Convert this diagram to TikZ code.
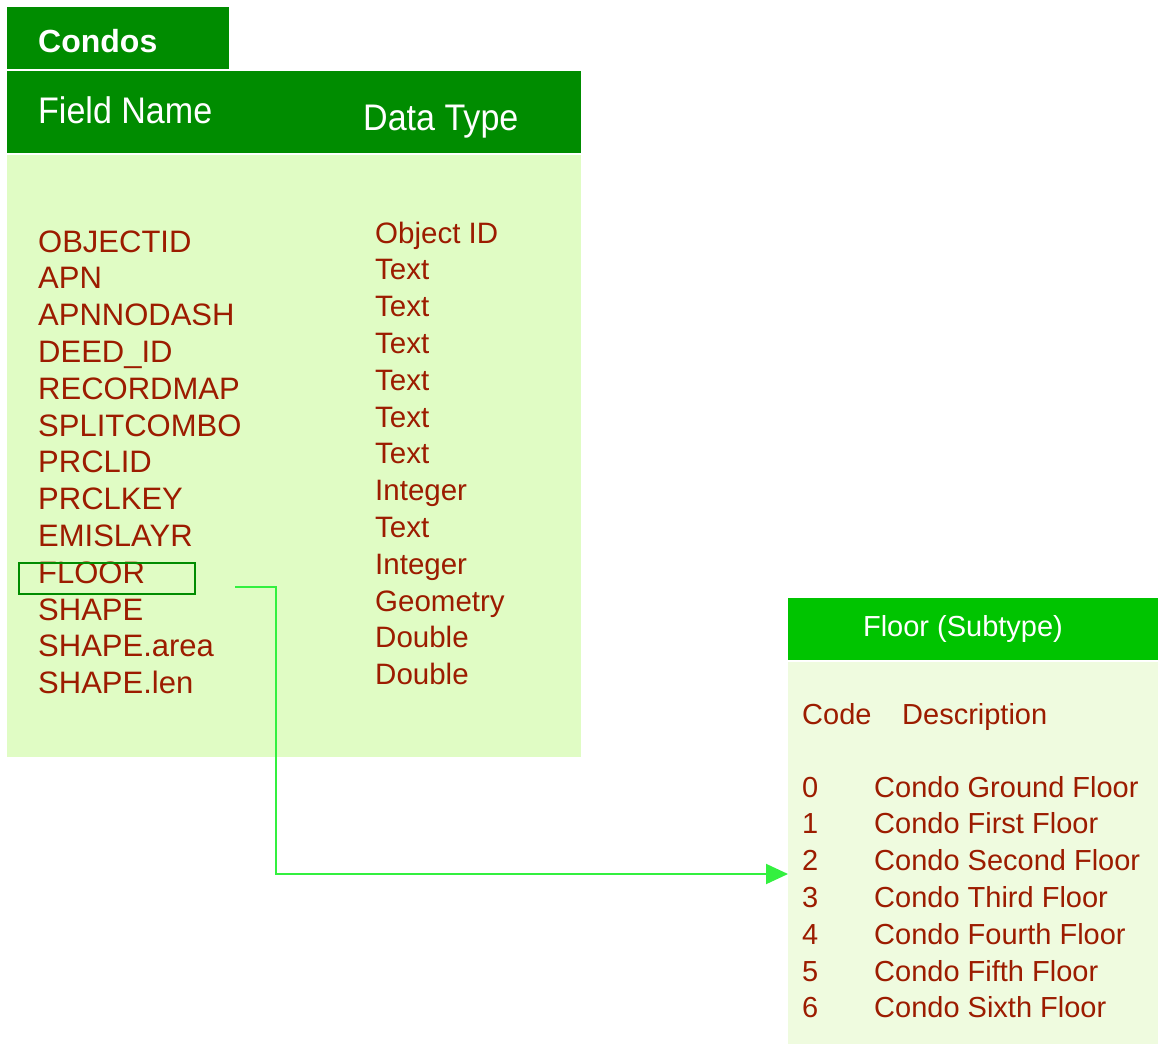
\documentclass[tikz,border=0pt]{standalone}
\usepackage{fontspec}
\setmainfont{Liberation Sans}
\newfontfamily\hdrfont[FakeStretch=0.92]{Liberation Sans}
\usetikzlibrary{arrows.meta}
\definecolor{darkgreen}{HTML}{008C00}
\definecolor{brightgreen}{HTML}{00C400}
\definecolor{paleA}{HTML}{E0FCC4}
\definecolor{paleB}{HTML}{EFFBDF}
\definecolor{fieldred}{HTML}{9C1C00}
\definecolor{linkgreen}{HTML}{33F03F}
\tikzset{
  panel/.style={anchor=north west, inner sep=0pt, outer sep=0pt, draw=none},
  field/.style={anchor=base west, inner sep=0pt, text=fieldred, font=\fontsize{31}{31}\selectfont},
  dtype/.style={anchor=base west, inner sep=0pt, text=fieldred, font=\fontsize{29.5}{30}\selectfont},
  sub/.style={anchor=base west, inner sep=0pt, text=fieldred, font=\fontsize{29}{30}\selectfont},
  hdr/.style={anchor=base west, inner sep=0pt, text=white, font=\hdrfont\fontsize{37}{37}\selectfont},
  link/.style={draw=linkgreen, line width=2pt, -{Triangle[length=22pt,width=20pt]}}
}
\begin{document}
\begin{tikzpicture}[x=1pt,y=-1pt]
\useasboundingbox (0,0) rectangle (1158,1044);
\fill[white] (0,0) rectangle (1158,1044);

% Condos table
\node[panel, fill=darkgreen, minimum width=222pt, minimum height=62pt] (title) at (7,7) {};
\node[anchor=base west, inner sep=0pt, text=white, font=\bfseries\fontsize{32}{32}\selectfont] (titletxt) at (38,52) {Condos};
\node[panel, fill=darkgreen, minimum width=574pt, minimum height=82pt] (head) at (7,71) {};
\node[hdr] (hname) at (38,123.3) {Field Name};
\node[hdr] (htype) at (363,130) {Data Type};
\node[panel, fill=paleA, minimum width=574pt, minimum height=602pt] (body) at (7,155) {};

\foreach \f [count=\i from 0] in {OBJECTID,APN,APNNODASH,DEED\_ID,RECORDMAP,SPLITCOMBO,PRCLID,PRCLKEY,EMISLAYR,FLOOR,SHAPE,SHAPE.area,SHAPE.len}
  \node[field] (f\i) at (38,252+36.8*\i) {\f};
\foreach \t [count=\i from 0] in {Object ID,Text,Text,Text,Text,Text,Text,Integer,Text,Integer,Geometry,Double,Double}
  \node[dtype] (t\i) at (375,243+36.8*\i) {\t};

% highlight around the FLOOR field
\node[panel, draw=darkgreen, line width=1.6pt, minimum width=176pt, minimum height=31pt] (floorbox) at (19,563) {};

% Floor subtype table
\node[panel, fill=brightgreen, minimum width=370pt, minimum height=62pt] (subhead) at (788,598) {};
\node[anchor=base, inner sep=0pt, text=white, font=\fontsize{29}{30}\selectfont] (subtitle) at (963,636.5) {Floor (Subtype)};
\node[panel, fill=paleB, minimum width=370pt, minimum height=382pt] (subbody) at (788,662) {};
\node[sub] (code) at (802,724) {Code};
\node[sub] (desc) at (902,724) {Description};
\foreach \d [count=\i from 0] in {Condo Ground Floor,Condo First Floor,Condo Second Floor,Condo Third Floor,Condo Fourth Floor,Condo Fifth Floor,Condo Sixth Floor}{
  \node[sub] (c\i) at (802,797+36.83*\i) {\i};
  \node[sub] (d\i) at (874,797+36.83*\i) {\d};
}

% connector from the FLOOR field to the subtype table
\coordinate (linkstart) at (235,587);
\coordinate (linkend) at (subbody.west |- 0,874);
\draw[link] (linkstart) -- (276,587) -- (276,874) -- (linkend);
\end{tikzpicture}
\end{document}
